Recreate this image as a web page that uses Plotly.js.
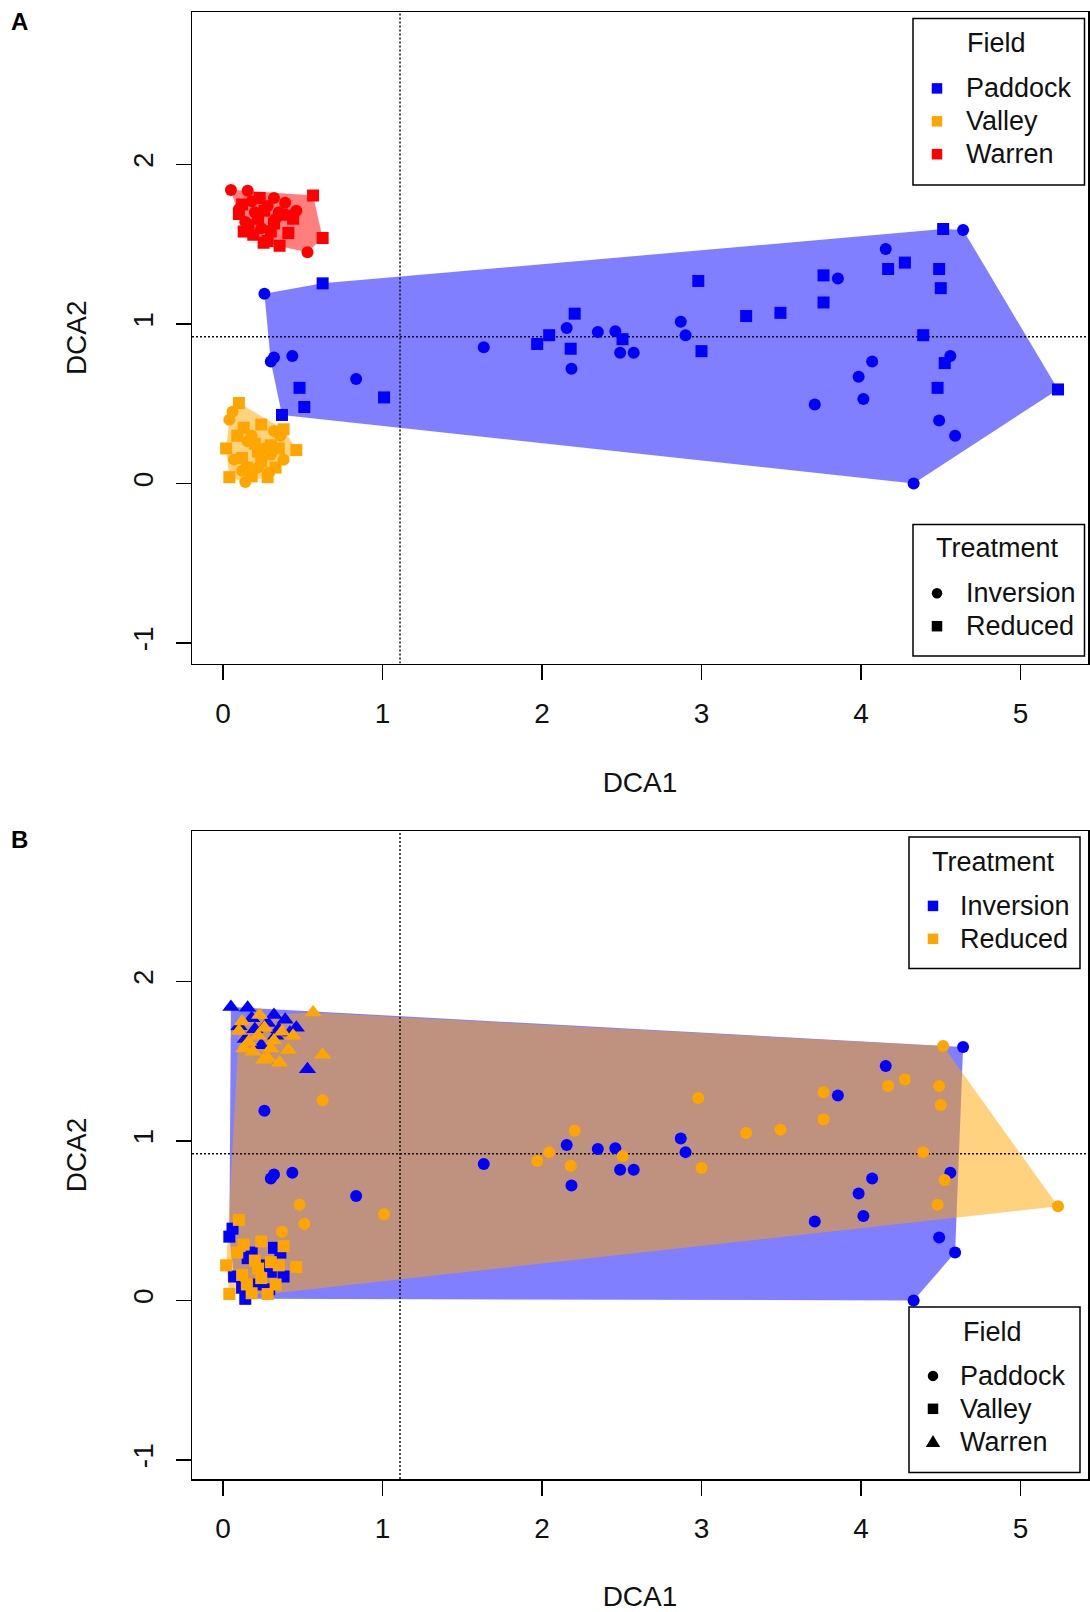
<!DOCTYPE html>
<html>
<head>
<meta charset="utf-8">
<script src="https://cdn.plot.ly/plotly-3.0.1.min.js"></script>
<style>
  html, body { margin: 0; padding: 0; background: #fff; }
  #chart { width: 1090px; height: 1612px; }
</style>
</head>
<body>
<div id="chart"></div>
<script>
// ---- categories ----
const fields = ['Paddock', 'Valley', 'Warren'];
const treatments = ['Inversion', 'Reduced'];

// ---- DCA site scores (axis 1, axis 2) per field and tillage treatment ----
const paddockInversionDCA1 = [0.26, 0.30, 0.32, 0.435, 0.835, 1.635, 2.155, 2.185, 2.35, 2.46, 2.49, 2.575, 2.87, 2.90, 3.855, 3.71, 3.985, 4.07, 4.015, 4.155, 4.64, 4.56, 4.49, 4.59, 4.33];
const paddockInversionDCA2 = [1.19, 0.765, 0.79, 0.80, 0.655, 0.855, 0.975, 0.72, 0.95, 0.955, 0.82, 0.82, 1.015, 0.93, 1.285, 0.495, 0.67, 0.765, 0.53, 1.47, 1.59, 0.80, 0.395, 0.30, 0.0];
const paddockReducedDCA1 = [0.625, 0.48, 0.51, 0.37, 1.01, 1.97, 2.045, 2.205, 2.18, 2.505, 2.98, 3.00, 3.28, 3.495, 3.765, 3.765, 4.17, 4.275, 4.515, 4.49, 4.50, 4.39, 4.525, 4.48, 5.235];
const paddockReducedDCA2 = [1.255, 0.60, 0.48, 0.43, 0.54, 0.875, 0.93, 1.065, 0.845, 0.905, 1.27, 0.83, 1.05, 1.07, 1.305, 1.135, 1.345, 1.385, 1.595, 1.345, 1.225, 0.93, 0.755, 0.60, 0.59];

const valleyInversionDCA1 = [0.04, 0.06, 0.32, 0.36, 0.155, 0.38, 0.29, 0.14, 0.07, 0.22, 0.26, 0.12, 0.18, 0.30];
const valleyInversionDCA2 = [0.40, 0.45, 0.33, 0.30, 0.265, 0.15, 0.07, 0.01, 0.15, 0.10, 0.22, 0.08, 0.30, 0.18];
const valleyReducedDCA1 = [0.10, 0.13, 0.24, 0.38, 0.46, 0.02, 0.04, 0.18, 0.12, 0.24, 0.30, 0.20, 0.33, 0.28, 0.09, 0.22, 0.15, 0.35];
const valleyReducedDCA2 = [0.505, 0.35, 0.37, 0.34, 0.21, 0.22, 0.04, 0.045, 0.16, 0.14, 0.24, 0.25, 0.10, 0.04, 0.30, 0.20, 0.10, 0.22];

const warrenInversionDCA1 = [0.05, 0.155, 0.32, 0.39, 0.46, 0.53, 0.20, 0.28, 0.14, 0.42, 0.24, 0.33, 0.18, 0.10, 0.35];
const warrenInversionDCA2 = [1.84, 1.835, 1.79, 1.76, 1.71, 1.45, 1.70, 1.74, 1.64, 1.68, 1.60, 1.66, 1.77, 1.72, 1.70];
const warrenReducedDCA1 = [0.565, 0.625, 0.23, 0.12, 0.10, 0.26, 0.37, 0.255, 0.355, 0.19, 0.16, 0.30, 0.44, 0.41, 0.22, 0.32, 0.13, 0.28];
const warrenReducedDCA2 = [1.805, 1.54, 1.79, 1.75, 1.69, 1.71, 1.685, 1.51, 1.49, 1.56, 1.62, 1.58, 1.66, 1.57, 1.66, 1.63, 1.58, 1.52];

// reference lines (centre of the ordination)
const centreDCA1 = 1.11;
const centreDCA2 = 0.92;

// axis ticks
const xTicks = [0, 1, 2, 3, 4, 5];
const yTicks = [-1, 0, 1, 2];

// ---- styling ----
const FONT = 'Liberation Sans, Arial, Helvetica, sans-serif';
const fieldColor = { Paddock: '#0000ff', Valley: '#ffa500', Warren: '#ff0000' };
const fieldFill = { Paddock: 'rgba(0,0,255,0.5)', Valley: 'rgba(255,165,0,0.5)', Warren: 'rgba(255,0,0,0.5)' };
const treatColor = { Inversion: '#0000ff', Reduced: '#ffa500' };
const treatFill = { Inversion: 'rgba(0,0,255,0.5)', Reduced: 'rgba(255,165,0,0.5)' };
const treatSymbol = { Inversion: 'circle', Reduced: 'square' };
const fieldSymbol = { Paddock: 'circle', Valley: 'square', Warren: 'triangle-up' };
const symbolSize = { circle: 12, square: 12, 'triangle-up': 15 };

const scores = {
  Paddock: { Inversion: [paddockInversionDCA1, paddockInversionDCA2], Reduced: [paddockReducedDCA1, paddockReducedDCA2] },
  Valley:  { Inversion: [valleyInversionDCA1, valleyInversionDCA2],   Reduced: [valleyReducedDCA1, valleyReducedDCA2] },
  Warren:  { Inversion: [warrenInversionDCA1, warrenInversionDCA2],   Reduced: [warrenReducedDCA1, warrenReducedDCA2] }
};

// convex hull (monotone chain), closed polygon
function hull(xs, ys) {
  const pts = xs.map((x, i) => [x, ys[i]]).sort((a, b) => a[0] - b[0] || a[1] - b[1]);
  const cross = (o, a, b) => (a[0] - o[0]) * (b[1] - o[1]) - (a[1] - o[1]) * (b[0] - o[0]);
  const lower = [], upper = [];
  for (const p of pts) {
    while (lower.length >= 2 && cross(lower[lower.length - 2], lower[lower.length - 1], p) <= 0) lower.pop();
    lower.push(p);
  }
  for (let i = pts.length - 1; i >= 0; i--) {
    const p = pts[i];
    while (upper.length >= 2 && cross(upper[upper.length - 2], upper[upper.length - 1], p) <= 0) upper.pop();
    upper.push(p);
  }
  lower.pop(); upper.pop();
  const h = lower.concat(upper);
  h.push(h[0]);
  return { x: h.map(p => p[0]), y: h.map(p => p[1]) };
}

const xRangeA = [-0.194, 5.423], yRangeA = [-1.128, 2.956];
const xRangeB = [-0.194, 5.423], yRangeB = [-1.12, 2.944];

const traces = [];

function hullTrace(xs, ys, fill, xa, ya) {
  const h = hull(xs, ys);
  return { type: 'scatter', mode: 'lines', x: h.x, y: h.y, fill: 'toself', fillcolor: fill,
           line: { width: 0, color: 'rgba(0,0,0,0)' }, hoverinfo: 'skip', xaxis: xa, yaxis: ya };
}
function centreLines(xr, yr, xa, ya) {
  const style = { color: '#111', width: 1.5, dash: '2px,2px' };
  return [
    { type: 'scatter', mode: 'lines', x: [centreDCA1, centreDCA1], y: [yr[0], yr[1]], line: style, hoverinfo: 'skip', xaxis: xa, yaxis: ya },
    { type: 'scatter', mode: 'lines', x: [xr[0], xr[1]], y: [centreDCA2, centreDCA2], line: style, hoverinfo: 'skip', xaxis: xa, yaxis: ya }
  ];
}

// ---- panel A: coloured by field, symbol by treatment ----
['Warren', 'Paddock', 'Valley'].forEach(f => {
  const xs = scores[f].Inversion[0].concat(scores[f].Reduced[0]);
  const ys = scores[f].Inversion[1].concat(scores[f].Reduced[1]);
  traces.push(hullTrace(xs, ys, fieldFill[f], 'x', 'y'));
});
traces.push(...centreLines(xRangeA, yRangeA, 'x', 'y'));
fields.forEach(f => {
  treatments.forEach(t => {
    const sym = treatSymbol[t];
    traces.push({ type: 'scatter', mode: 'markers', name: f + ' ' + t,
      x: scores[f][t][0], y: scores[f][t][1], xaxis: 'x', yaxis: 'y',
      marker: { symbol: sym, size: symbolSize[sym], color: fieldColor[f], line: { width: 0 } } });
  });
});

// ---- panel B: coloured by treatment, symbol by field ----
treatments.forEach(t => {
  let xs = [], ys = [];
  fields.forEach(f => { xs = xs.concat(scores[f][t][0]); ys = ys.concat(scores[f][t][1]); });
  traces.push(hullTrace(xs, ys, treatFill[t], 'x2', 'y2'));
});
traces.push(...centreLines(xRangeB, yRangeB, 'x2', 'y2'));
treatments.forEach(t => {
  fields.forEach(f => {
    const sym = fieldSymbol[f];
    traces.push({ type: 'scatter', mode: 'markers', name: t + ' ' + f,
      x: scores[f][t][0], y: scores[f][t][1], xaxis: 'x2', yaxis: 'y2',
      marker: { symbol: sym, size: symbolSize[sym], color: treatColor[t], line: { width: 0 } } });
  });
});

// ---- page geometry ----
const W = 1090, H = 1612;
const M = { l: 192, r: 2, t: 12, b: 133 };
const px2x = px => (px - M.l) / (W - M.l - M.r);
const px2y = py => 1 - (py - M.t) / (H - M.t - M.b);

function axisX(range, anchor, titleStandoff) {
  return { anchor: anchor, domain: [0, 1], range: range, tickvals: xTicks, ticktext: xTicks.map(String),
    ticks: 'outside', ticklen: 15, tickwidth: 1.5, tickcolor: '#000', ticklabelstandoff: 9,
    showline: true, linewidth: 1.5, linecolor: '#000', mirror: true,
    showgrid: false, zeroline: false, tickfont: { family: FONT, size: 28, color: '#111' },
    title: { text: 'DCA1', font: { family: FONT, size: 28, color: '#111' }, standoff: titleStandoff } };
}
function axisY(range, anchor, domain) {
  return { anchor: anchor, domain: domain, range: range, tickvals: yTicks, ticktext: yTicks.map(String),
    tickangle: -90, ticks: 'outside', ticklen: 15, tickwidth: 1.5, tickcolor: '#000', ticklabelstandoff: 11,
    showline: true, linewidth: 1.5, linecolor: '#000', mirror: true,
    showgrid: false, zeroline: false, tickfont: { family: FONT, size: 28, color: '#111' },
    title: { text: 'DCA2', font: { family: FONT, size: 28, color: '#111' }, standoff: 33 } };
}

// ---- legend boxes ----
const shapes = [];
const annotations = [];

function keyShape(sym, color, cx, cy, s) {
  const base = { xref: 'paper', yref: 'paper', fillcolor: color, line: { width: 0 }, layer: 'above' };
  if (sym === 'square') return Object.assign(base, { type: 'rect', x0: px2x(cx - s / 2), x1: px2x(cx + s / 2), y0: px2y(cy + s / 2), y1: px2y(cy - s / 2) });
  if (sym === 'circle') return Object.assign(base, { type: 'circle', x0: px2x(cx - s / 2), x1: px2x(cx + s / 2), y0: px2y(cy + s / 2), y1: px2y(cy - s / 2) });
  const hw = s * 0.6, top = cy - s * 0.55, bot = cy + s * 0.45;
  return Object.assign(base, { type: 'path',
    path: `M${px2x(cx - hw)},${px2y(bot)} L${px2x(cx + hw)},${px2y(bot)} L${px2x(cx)},${px2y(top)} Z` });
}

function legendBox(box, title, titleCx, titleCy, items, keyX, textX, rowYs) {
  shapes.push({ type: 'rect', xref: 'paper', yref: 'paper', layer: 'above',
    x0: px2x(box[0]), x1: px2x(box[2]), y0: px2y(box[3]), y1: px2y(box[1]),
    line: { color: '#000', width: 1.5 }, fillcolor: '#fff' });
  annotations.push({ xref: 'paper', yref: 'paper', x: px2x(titleCx), y: px2y(titleCy), xanchor: 'center', yanchor: 'middle',
    text: title, showarrow: false, font: { family: FONT, size: 27, color: '#111' } });
  items.forEach((it, i) => {
    shapes.push(keyShape(it.symbol, it.color, keyX, rowYs[i], it.symbol === 'triangle-up' ? 12 : 10.5));
    annotations.push({ xref: 'paper', yref: 'paper', x: px2x(textX), y: px2y(rowYs[i]), xanchor: 'left', yanchor: 'middle',
      text: it.label, showarrow: false, font: { family: FONT, size: 27, color: '#111' } });
  });
}

legendBox([913, 18.5, 1084.5, 185], 'Field', 996.5, 43,
  fields.map(f => ({ label: f, symbol: 'square', color: fieldColor[f] })), 937, 963.5, [88.4, 121.3, 154.2]);
legendBox([913, 524.5, 1084.5, 656], 'Treatment', 997.5, 548,
  treatments.map(t => ({ label: t, symbol: treatSymbol[t], color: '#000' })), 937, 963.5, [593.3, 626.2]);
legendBox([909, 837, 1080, 968.5], 'Treatment', 993.5, 861.7,
  treatments.map(t => ({ label: t, symbol: 'square', color: treatColor[t] })), 933, 957.5, [905.9, 938.8]);
legendBox([909, 1307, 1080, 1472.5], 'Field', 992.5, 1331.6,
  fields.map(f => ({ label: f, symbol: fieldSymbol[f], color: '#000' })), 933, 957.5, [1375.9, 1408.8, 1441.7]);

// panel letters
annotations.push({ xref: 'paper', yref: 'paper', x: px2x(19.5), y: px2y(21.6), xanchor: 'center', yanchor: 'middle',
  text: '<b>A</b>', showarrow: false, font: { family: FONT, size: 24, color: '#000' } });
annotations.push({ xref: 'paper', yref: 'paper', x: px2x(19.5), y: px2y(840), xanchor: 'center', yanchor: 'middle',
  text: '<b>B</b>', showarrow: false, font: { family: FONT, size: 24, color: '#000' } });

const layout = {
  width: W, height: H,
  margin: M,
  paper_bgcolor: '#fff', plot_bgcolor: '#fff',
  showlegend: false,
  font: { family: FONT, color: '#111' },
  xaxis: axisX(xRangeA, 'y', 45),
  yaxis: axisY(yRangeA, 'x', [px2y(663.5), 1]),
  xaxis2: axisX(xRangeB, 'y2', 45),
  yaxis2: axisY(yRangeB, 'x2', [0, px2y(831)]),
  shapes: shapes,
  annotations: annotations
};

Plotly.newPlot('chart', traces, layout, { displayModeBar: false, staticPlot: true });
</script>
</body>
</html>
